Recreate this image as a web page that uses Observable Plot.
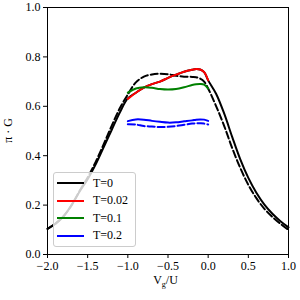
<!DOCTYPE html>
<html>
<head>
<meta charset="utf-8">
<script src="https://cdn.jsdelivr.net/npm/d3@7"></script>
<script src="https://cdn.jsdelivr.net/npm/@observablehq/plot@0.6"></script>
<style>
  html, body { margin: 0; padding: 0; background: #fff; }
  #wrap { position: relative; width: 300px; height: 300px; font-family: "Liberation Serif", "DejaVu Serif", serif; }
  #legend { position: absolute; left: 53px; top: 172px; width: 83px; height: 75px; box-sizing: border-box;
    background: rgba(255,255,255,0.8); border: 1px solid #cccccc; border-radius: 3px; }
  .lg-row { position: absolute; left: 3px; height: 14px; display: flex; align-items: center; }
  .lg-row span { font-size: 12px; margin-left: 9px; color: #000; }
</style>
</head>
<body>
<div id="wrap"></div>
<script>
// ---- data ----
const xFull = [-2.0,-1.9,-1.8,-1.7,-1.6,-1.5,-1.4,-1.3,-1.2,-1.1,-1.0,-0.9,-0.8,-0.7,-0.6,-0.5,-0.4,-0.3,-0.2,-0.15,-0.1,-0.05,0.0,0.1,0.2,0.3,0.4,0.5,0.6,0.7,0.8,0.9,1.0];
const yT0 = [0.104,0.125,0.155,0.200,0.255,0.305,0.365,0.435,0.505,0.575,0.632,0.655,0.676,0.690,0.700,0.715,0.728,0.740,0.748,0.751,0.749,0.738,0.705,0.650,0.570,0.475,0.385,0.310,0.250,0.202,0.165,0.135,0.110];
const yT0dashed = [0.104,0.125,0.155,0.200,0.258,0.312,0.375,0.447,0.522,0.592,0.648,0.697,0.720,0.729,0.732,0.730,0.724,0.720,0.719,0.718,0.712,0.700,0.672,0.600,0.520,0.430,0.350,0.282,0.228,0.185,0.152,0.124,0.100];
const xMid = [-1.0,-0.9,-0.8,-0.7,-0.6,-0.5,-0.4,-0.3,-0.2,-0.15,-0.1,-0.05,0.0];
const yT002 = [0.630,0.655,0.676,0.690,0.700,0.715,0.728,0.740,0.748,0.751,0.749,0.738,0.705];
const yT01 = [0.655,0.672,0.677,0.675,0.670,0.668,0.670,0.677,0.686,0.689,0.690,0.688,0.672];
const yT02 = [0.540,0.547,0.546,0.541,0.537,0.534,0.535,0.539,0.543,0.546,0.547,0.546,0.541];
const yT02dashed = [0.527,0.526,0.520,0.518,0.516,0.517,0.520,0.525,0.530,0.531,0.531,0.530,0.526];
const seriesNames = ["T=0", "T=0.02", "T=0.1", "T=0.2"];
const seriesColors = ["#000000", "#ff0000", "#008000", "#0000ff"];
const xTicks = [-2.0,-1.5,-1.0,-0.5,0.0,0.5,1.0];
const yTicks = [0.0,0.2,0.4,0.6,0.8,1.0];

const toRows = (xs, ys) => xs.map((x, i) => ({x, y: ys[i]}));
const fmt = d => d3.format(".1f")(d).replace("-", "\u2212");

const lineOpts = (color, dashed) => ({x: "x", y: "y", stroke: color, strokeWidth: 2, curve: "catmull-rom",
  strokeDasharray: dashed ? "7,3" : null});

const plot = Plot.plot({
  width: 300, height: 300,
  marginLeft: 47, marginRight: 12, marginTop: 7, marginBottom: 46,
  style: {fontFamily: "'Liberation Serif', 'DejaVu Serif', serif", fontSize: "12px", color: "#000", background: "transparent"},
  x: {domain: [-2, 1]},
  y: {domain: [0, 1]},
  marks: [
    Plot.line(toRows(xFull, yT0dashed), lineOpts(seriesColors[0], true)),
    Plot.line(toRows(xFull, yT0), lineOpts(seriesColors[0], false)),
    Plot.line(toRows(xMid, yT002), lineOpts(seriesColors[1], false)),
    Plot.line(toRows(xMid, yT01), lineOpts(seriesColors[2], false)),
    Plot.line(toRows(xMid, yT02dashed), lineOpts(seriesColors[3], true)),
    Plot.line(toRows(xMid, yT02), lineOpts(seriesColors[3], false)),
    Plot.frame({stroke: "#000", strokeWidth: 1}),
    Plot.axisX({ticks: xTicks, tickSize: 4, tickPadding: 3, tickFormat: fmt, label: null, fontSize: 12}),
    Plot.axisY({ticks: yTicks, tickSize: 4, tickPadding: 3, tickFormat: fmt, label: null, fontSize: 12})
  ]
});

const wrap = document.getElementById("wrap");
wrap.appendChild(plot);

// axis titles (with subscript) placed via the plot's scales
const sx = plot.scale("x"), sy = plot.scale("y");
const cx = (sx.range[0] + sx.range[1]) / 2;
const cy = (sy.range[0] + sy.range[1]) / 2;
const svg = d3.select(plot);
const xl = svg.append("text").attr("x", cx - 2).attr("y", 284).attr("text-anchor", "middle")
  .attr("font-size", 12).attr("font-family", "'Liberation Serif', serif").attr("fill", "#000");
xl.append("tspan").text("V");
xl.append("tspan").attr("font-size", 8).attr("dy", 3).text("g");
xl.append("tspan").attr("dy", -3).text("/U");
svg.append("text").attr("transform", `translate(12,${cy}) rotate(-90)`).attr("text-anchor", "middle")
  .attr("font-size", 12).attr("font-family", "'Liberation Serif', serif").attr("fill", "#000")
  .text("\u03c0 \u00b7 G");

// legend
const legend = document.createElement("div");
legend.id = "legend";
seriesNames.forEach((name, i) => {
  const row = document.createElement("div");
  row.className = "lg-row";
  row.style.top = (3 + i * 17.6) + "px";
  row.innerHTML = `<svg width="27" height="4"><line x1="0" x2="27" y1="2" y2="2" stroke="${seriesColors[i]}" stroke-width="2"/></svg><span>${name}</span>`;
  legend.appendChild(row);
});
wrap.appendChild(legend);
</script>
</body>
</html>
